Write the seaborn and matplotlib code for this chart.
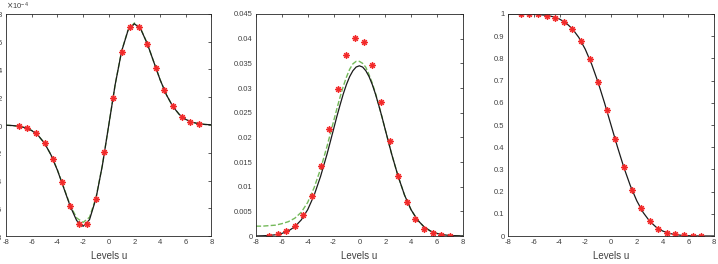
import numpy as np
import matplotlib
matplotlib.use("Agg")
import matplotlib.pyplot as plt
from matplotlib.ticker import FuncFormatter
import seaborn as sns

sns.set_theme(style="white")
plt.rcParams['font.family'] = ['Liberation Sans', 'DejaVu Sans']
plt.rcParams['axes.unicode_minus'] = False

# grid for the smooth curves and the 22 sample levels
u_curve = np.arange(-8, 8.5, 0.5)
u_pts = np.linspace(-7, 7, 22)

# panel 1 (units of 1e-4)
p1_black = [-0.016, -0.040, -0.092, -0.199, -0.40, -0.755, -1.32, -2.16, -3.26, -4.56, -5.86,
            -6.89, -7.30, -6.82, -5.31, -2.92, 0.0, 2.92, 5.31, 6.82, 7.30, 6.89, 5.86, 4.56,
            3.26, 2.16, 1.32, 0.755, 0.40, 0.199, 0.092, 0.040, 0.016]
p1_green = [-0.016, -0.040, -0.092, -0.199, -0.40, -0.755, -1.32, -2.15, -3.24, -4.52, -5.80,
            -6.70, -7.02, -6.65, -5.25, -2.90, 0.0, 2.93, 5.33, 6.85, 7.36, 6.92, 5.87, 4.56,
            3.26, 2.16, 1.32, 0.755, 0.40, 0.199, 0.092, 0.040, 0.016]
p1_pts = [-0.07, -0.24, -0.57, -1.31, -2.48, -4.08, -5.87, -7.14, -7.14, -5.32, -1.96,
          1.96, 5.27, 7.04, 7.09, 5.82, 4.08, 2.51, 1.34, 0.60, 0.24, 0.10]

# panel 2 (finer spacing around the peak)
p2_u = [-8, -7.5, -7, -6.5, -6, -5.5, -5, -4.5, -4, -3.5, -3, -2.5, -2,
        -1.75, -1.5, -1.25, -1, -0.75, -0.5, -0.25, 0, 0.25, 0.5, 0.75, 1, 1.25, 1.5, 1.75,
        2, 2.5, 3, 3.5, 4, 4.5, 5, 5.5, 6, 6.5, 7, 7.5, 8]
p2_black = [0.00002, 0.00005, 0.00011, 0.00025, 0.00052, 0.00101, 0.00187, 0.00325, 0.00533,
            0.00826, 0.0121, 0.0166, 0.0216,
            0.02414, 0.0265, 0.02875, 0.0307, 0.03231, 0.0335, 0.03425, 0.0345, 0.03425,
            0.0335, 0.03231, 0.0307, 0.02875, 0.0265, 0.02414,
            0.0216, 0.0166, 0.0121, 0.00826, 0.00533, 0.00325, 0.00187, 0.00101,
            0.00052, 0.00025, 0.00011, 0.00005, 0.00002]
p2_green = [0.0020, 0.0020, 0.0021, 0.0022, 0.0025, 0.0029, 0.0036, 0.0048, 0.0068, 0.0098,
            0.0136, 0.0182, 0.0232,
            0.0257, 0.0281, 0.0303, 0.0322, 0.0338, 0.0349, 0.0354, 0.0354, 0.0350,
            0.0342, 0.0327, 0.0310, 0.0289, 0.0266, 0.0241,
            0.0216, 0.0166, 0.0121, 0.00826, 0.00533, 0.00325, 0.00187, 0.00101, 0.00052,
            0.00025, 0.00011, 0.00005, 0.00002]
p2_pts = [0.0001, 0.0004, 0.0010, 0.0021, 0.0043, 0.0082, 0.0141, 0.0217, 0.0298, 0.0366,
          0.0402, 0.0394, 0.0347, 0.0271, 0.0193, 0.0121, 0.0069, 0.0034, 0.0015, 0.0006,
          0.0003, 0.0001]

# panel 3
p3_black = [1.0, 0.9999, 0.99977, 0.9994, 0.99865, 0.9970, 0.9938, 0.9878, 0.9772, 0.9599,
            0.9332, 0.8944, 0.8413, 0.7734, 0.6915, 0.5987, 0.5, 0.4013, 0.3085, 0.2266,
            0.1587, 0.1056, 0.0668, 0.0401, 0.0228, 0.0122, 0.0062, 0.0030, 0.00135, 0.0006,
            0.00023, 0.0001, 0.00003]
p3_pts = [0.998, 0.998, 0.998, 0.993, 0.984, 0.966, 0.934, 0.880, 0.799, 0.693, 0.567,
          0.436, 0.311, 0.207, 0.124, 0.069, 0.033, 0.015, 0.007, 0.003, 0.0015, 0.001]

fig = plt.figure(figsize=(7.18, 2.64), dpi=100)
ax1 = fig.add_axes([0.0085, 0.106, 0.286, 0.841])
ax2 = fig.add_axes([0.3565, 0.106, 0.288, 0.841])
ax3 = fig.add_axes([0.7075, 0.106, 0.287, 0.841])

green = "#74b95a"
tick_col = "#404040"


def draw(ax, u, black, pts, green_vals=None):
    if green_vals is not None:
        sns.lineplot(x=u, y=green_vals, ax=ax, color=green, linestyle="--", linewidth=1.0)
    sns.lineplot(x=u, y=black, ax=ax, color="#1a1a1a", linewidth=0.9)
    # soft halo then the asterisk
    ax.plot(u_pts, pts, linestyle="none", marker="o", markersize=5, color="#ff7070",
            alpha=0.3, markeredgewidth=0)
    ax.plot(u_pts, pts, linestyle="none", marker=(8, 2, 0), markersize=4.5, color="#f22a2a",
            markeredgewidth=0.8)


def style(ax, ylim, yticks, fmt):
    ax.set_xlim(-8, 8)
    ax.set_ylim(*ylim)
    ax.set_xticks(np.arange(-8, 9, 2))
    ax.set_yticks(yticks)
    ax.xaxis.set_major_formatter(FuncFormatter(lambda v, p: "%g" % v))
    if fmt is not None:
        ax.yaxis.set_major_formatter(FuncFormatter(fmt))
    ax.tick_params(direction="in", length=2.5, width=0.6, colors=tick_col, labelsize=5.5,
                   top=True, right=True, pad=2.5)
    for s in ax.spines.values():
        s.set_color("#262626")
        s.set_linewidth(0.6)
    ax.set_xlabel("Levels u", fontsize=7, color=tick_col, labelpad=3)
    ax.set_ylabel("")


draw(ax1, u_curve, [v * 1e-4 for v in p1_black], [v * 1e-4 for v in p1_pts],
     [v * 1e-4 for v in p1_green])
style(ax1, (-8e-4, 8e-4), np.arange(-8, 9, 2) * 1e-4, None)
ax1.ticklabel_format(axis="y", style="sci", scilimits=(0, 0), useMathText=True)
ax1.yaxis.get_offset_text().set_fontsize(5.5)
ax1.yaxis.get_offset_text().set_color(tick_col)

draw(ax2, p2_u, p2_black, p2_pts, p2_green)
style(ax2, (0, 0.045), np.arange(0, 0.0451, 0.005), lambda v, p: "%g" % round(v, 4))

draw(ax3, u_curve, p3_black, p3_pts)
style(ax3, (0, 1), np.arange(0, 1.01, 0.1), lambda v, p: "%g" % round(v, 2))

fig.savefig("out.png", dpi=100, facecolor="white")
